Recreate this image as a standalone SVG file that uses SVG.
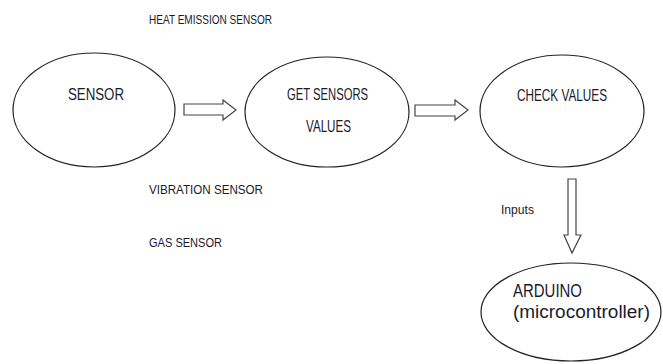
<svg xmlns="http://www.w3.org/2000/svg" width="663" height="364" viewBox="0 0 663 364">
<style>
.node ellipse{fill:#fff;stroke:#222;stroke-width:1.2}
.arrow{fill:#fff;stroke:#444;stroke-width:1.2;stroke-linejoin:miter}
text{font-family:"Liberation Sans",Arial,sans-serif;fill:#1a1a2e}
.lbl{font-size:16.5px}
.big{font-size:18px}
.sm{font-size:13.5px}
</style>
<rect width="663" height="364" fill="#fff"/>
<g id="sensor" class="node">
<ellipse cx="94" cy="110" rx="81" ry="57"/>
<text class="lbl" x="68" y="100" textLength="56" lengthAdjust="spacingAndGlyphs">SENSOR</text>
</g>
<g id="get-sensors-values" class="node">
<ellipse cx="327" cy="112" rx="82" ry="55"/>
<text class="lbl" x="287" y="100" textLength="81" lengthAdjust="spacingAndGlyphs">GET SENSORS</text>
<text class="lbl" x="306" y="132" textLength="45" lengthAdjust="spacingAndGlyphs">VALUES</text>
</g>
<g id="check-values" class="node">
<ellipse cx="562" cy="111" rx="82" ry="56"/>
<text class="lbl" x="517" y="101" textLength="90" lengthAdjust="spacingAndGlyphs">CHECK VALUES</text>
</g>
<g id="arduino" class="node">
<ellipse cx="571" cy="312" rx="90" ry="49"/>
<text class="big" x="513" y="297" textLength="69" lengthAdjust="spacingAndGlyphs">ARDUINO</text>
<text class="big" x="513" y="318" textLength="137" lengthAdjust="spacingAndGlyphs">(microcontroller)</text>
</g>
<g id="labels">
<text class="sm" x="149" y="24" textLength="123" lengthAdjust="spacingAndGlyphs">HEAT EMISSION SENSOR</text>
<text class="sm" x="149" y="194" textLength="114" lengthAdjust="spacingAndGlyphs">VIBRATION SENSOR</text>
<text class="sm" x="149" y="247" textLength="73" lengthAdjust="spacingAndGlyphs">GAS SENSOR</text>
<text class="sm" x="501" y="214" textLength="33" lengthAdjust="spacingAndGlyphs">Inputs</text>
</g>
<g id="connectors">
<path class="arrow" d="M184,104 H223 V100 L236,110 L223,120 V115 H184 Z"/>
<path class="arrow" d="M415,105 H455 V100 L468,110 L455,120 V116 H415 Z"/>
<path class="arrow" d="M568,179 H576 V235 H581 L572,253 L564,235 H568 Z"/>
</g>
</svg>
